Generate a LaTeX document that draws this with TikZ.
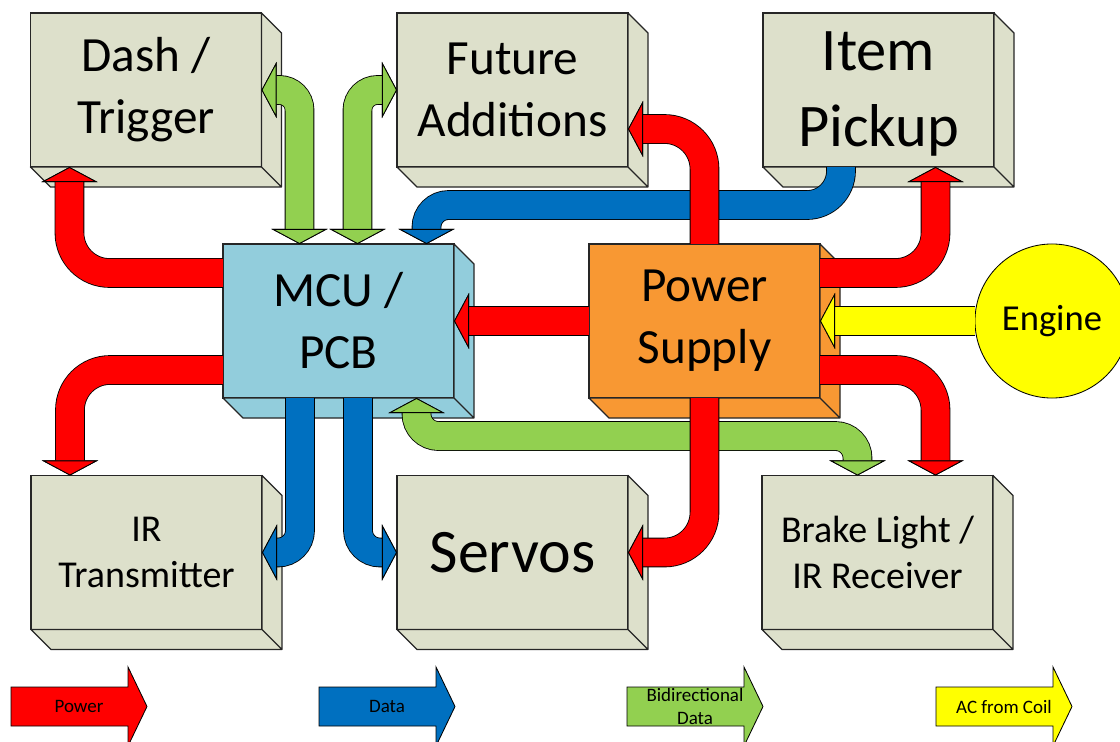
\documentclass[tikz,border=0pt]{standalone}
\usepackage{fontspec}
\setmainfont{Carlito}
\usetikzlibrary{arrows.meta}

\definecolor{boxgray}{RGB}{221,224,203}
\definecolor{mcublue}{RGB}{146,205,220}
\definecolor{psuorange}{RGB}{248,152,51}
\definecolor{pwrred}{RGB}{255,0,0}
\definecolor{datablue}{RGB}{0,112,192}
\definecolor{bidigreen}{RGB}{146,208,80}
\definecolor{acyellow}{RGB}{255,255,0}

\tikzset{
  slab/.style={draw=black!85, line width=0.9pt, fill=#1, minimum width=5.775cm,
    minimum height=3.85cm, inner sep=0pt, outer sep=0pt, align=center},
  slabside/.style={draw=black!85, line width=0.9pt, fill=#1, line join=round},
  bigtext/.style={font=\fontsize{35}{44}\selectfont},
  hugetext/.style={font=\fontsize{43}{54}\selectfont},
  smalltext/.style={font=\fontsize{27}{33}\selectfont},
  flowedge/.style={line width=21.1pt, black, rounded corners=1cm},
  flowcore/.style={line width=19.9pt, draw=#1, rounded corners=1cm},
  oneflow/.style={-{Triangle[width=1.4cm,length=0.375cm,fill=#1,color=black,line width=0.6pt]}},
  biflow/.style={{Triangle[width=1.4cm,length=0.375cm,fill=#1,color=black,line width=0.6pt]}-{Triangle[width=1.4cm,length=0.375cm,fill=#1,color=black,line width=0.6pt]}},
  keyarrow/.style={draw=black, line width=0.6pt, fill=#1},
  keytext/.style={font=\fontsize{13.5}{16}\selectfont, align=center, inner sep=0pt}
}

% block arrow: [kind] colour, path
\newcommand\flow[3][oneflow]{%
  \draw[flowedge, #1=#2] #3;
  \draw[flowcore=#2, #1=#2] #3;}

\begin{document}
\begin{tikzpicture}[x=0.025cm, y=-0.025cm]
  \useasboundingbox (0,0) rectangle (1120,742);
  \clip (0,0) rectangle (1120,742);

  % units
  \node[slab=boxgray, bigtext] (dash) at (146,90) {Dash /\\Trigger};
  \node[slab=boxgray, bigtext] (future) at (512.5,90) {Future\\Additions};
  \node[slab=boxgray, hugetext] (item) at (878.5,90) {\raisebox{0pt}[\dimexpr\height+6pt\relax]{Item}\\Pickup};
  \node[slab=mcublue, bigtext] (mcu) at (338.5,321) {MCU /\\PCB};
  \node[slab=psuorange, bigtext] (psu) at (704.5,321) {Power\\Supply};
  \node[slab=boxgray, smalltext] (irtx) at (146.5,552.5) {IR\\Transmitter};
  \node[slab=boxgray, font=\fontsize{44}{52}\selectfont] (servos) at (512.5,552.5) {Servos};
  \node[slab=boxgray, smalltext] (brake) at (877.5,552.5) {Brake Light /\\IR Receiver};
  \node[circle, draw=black, line width=0.6pt, fill=acyellow, minimum size=3.85cm, inner sep=0pt,
    outer sep=0pt, font=\fontsize{26}{30}\selectfont] (engine) at (1052,321) {Engine};

  % depth of the units
  \foreach \n/\c in {dash/boxgray, future/boxgray, item/boxgray, mcu/mcublue, psu/psuorange,
      irtx/boxgray, servos/boxgray, brake/boxgray}
    \draw[slabside=\c] (\n.north east) -- ++(20,20) -- ([shift={(20,20)}]\n.south east)
      -- ([shift={(20,20)}]\n.south west) -- (\n.south west) -- (\n.south east) -- cycle
      (\n.south east) -- ++(20,20);

  % data
  \flow{datablue}{([xshift=-0.9375cm]item.south) [rounded corners=0.85cm] -- ++(0,38) -- ++(-200,0)
    [rounded corners=0.55cm] -| ([xshift=2.2cm]mcu.north)}
  \flow{datablue}{([xshift=-0.9625cm]mcu.south) [rounded corners=0.55cm] |- (irtx.east)}
  \flow{datablue}{([xshift=0.4875cm]mcu.south) [rounded corners=0.55cm] |- (servos.west)}
  % bidirectional
  \flow[biflow]{bidigreen}{(dash.east) [rounded corners=0.5cm] -| ([xshift=-0.975cm]mcu.north)}
  \flow[biflow]{bidigreen}{(future.west) [rounded corners=0.5cm] -| ([xshift=0.475cm]mcu.north)}
  \flow[biflow]{bidigreen}{([xshift=1.95cm]mcu.south) [rounded corners=0.55cm] -- ++(0,38) -| ([xshift=-0.5cm]brake.north)}
  % AC
  \flow{acyellow}{(engine.west) -- (psu.east)}
  % power
  \flow{pwrred}{([yshift=1.2cm]mcu.west) -| ([xshift=0.975cm]dash.south west)}
  \flow{pwrred}{([yshift=-1.225cm]mcu.west) -| ([xshift=0.975cm]irtx.north west)}
  \flow{pwrred}{(psu.west) -- (mcu.east)}
  \flow{pwrred}{(psu.north) |- ([yshift=-0.975cm]future.east)}
  \flow{pwrred}{([yshift=1.2cm]psu.east) -| ([xshift=1.425cm]item.south)}
  \flow{pwrred}{([yshift=-1.225cm]psu.east) -| ([xshift=1.45cm]brake.north)}
  \flow{pwrred}{(psu.south) |- (servos.east)}

  % key
  \foreach \x/\c/\k/\t in {11/pwrred/pwr/Power, 319/datablue/data/Data,
      627/bidigreen/bidi/{Bidirectional\\Data}, 936/acyellow/ac/{AC from Coil}}
  {
    \draw[keyarrow=\c] (\x,687) -- ++(117,0) -- ++(0,-20) -- (\x+136,706.5) -- (\x+117,746)
      -- ++(0,-20) -- (\x,726) -- cycle;
    \node[keytext] (key-\k) at (\x+68,706.5) {\t};
  }
\end{tikzpicture}
\end{document}
